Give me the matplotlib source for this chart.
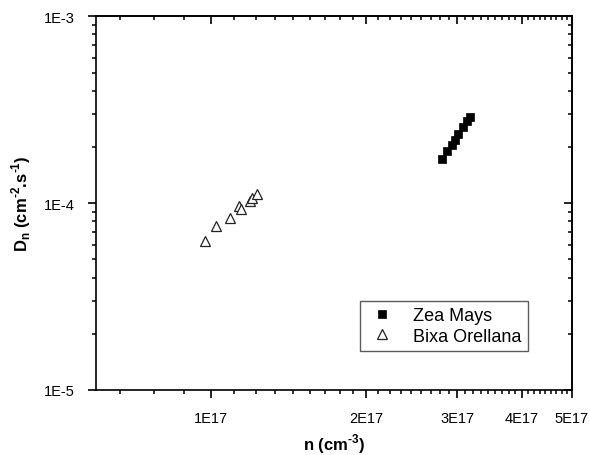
import numpy as np
import matplotlib
matplotlib.use('Agg')
import matplotlib.pyplot as plt
from matplotlib.ticker import FixedLocator, FixedFormatter, NullFormatter, LogLocator

plt.rcParams['font.family'] = ['Liberation Sans', 'DejaVu Sans']
plt.rcParams['mathtext.fontset'] = 'custom'
plt.rcParams['mathtext.rm'] = 'Liberation Sans:bold'
plt.rcParams['mathtext.bf'] = 'Liberation Sans:bold'

# Zea Mays (filled squares)
zea_n = [2.807e17, 2.871e17, 2.931e17, 2.975e17, 3.018e17, 3.078e17, 3.133e17, 3.183e17]
zea_d = [1.725e-4, 1.89e-4, 2.035e-4, 2.19e-4, 2.348e-4, 2.549e-4, 2.745e-4, 2.884e-4]

# Bixa Orellana (open triangles)
bixa_n = [9.75e16, 1.024e17, 1.089e17, 1.136e17, 1.144e17, 1.191e17, 1.205e17, 1.23e17]
bixa_d = [6.28e-5, 7.51e-5, 8.28e-5, 9.6e-5, 9.35e-5, 1.03e-4, 1.064e-4, 1.117e-4]

x_ticks = [1e17, 2e17, 3e17, 4e17, 5e17]
x_labels = ['1E17', '2E17', '3E17', '4E17', '5E17']
y_ticks = [1e-5, 1e-4, 1e-3]
y_labels = ['1E-5', '1E-4', '1E-3']

# minor ticks as in Origin: 8 per major step of 1E17
x_minor = [k * 1e17 / 9 for k in range(1, 46) if 6e16 <= k * 1e17 / 9 <= 5e17 and k % 9 != 0]
y_minor = LogLocator(base=10, subs=np.arange(2, 10))

fig = plt.figure(figsize=(5.9, 4.56), dpi=100)
ax = fig.add_axes([96 / 590, 1 - 391 / 456, (571.7 - 96) / 590, (391 - 17.3) / 456])

ax.plot(zea_n, zea_d, ls='none', marker='s', ms=6, mfc='black', mec='black', mew=0.5, label='Zea Mays')
ax.plot(bixa_n, bixa_d, ls='none', marker='^', ms=7.5, mfc='white', mec='#222222', mew=0.9, label='Bixa Orellana')

ax.set_xscale('log')
ax.set_yscale('log')
ax.set_xlim(6e16, 5e17)
ax.set_ylim(1e-5, 1e-3)

ax.xaxis.set_major_locator(FixedLocator(x_ticks))
ax.xaxis.set_minor_locator(FixedLocator(x_minor))
ax.xaxis.set_major_formatter(FixedFormatter(x_labels))
ax.xaxis.set_minor_formatter(NullFormatter())
ax.yaxis.set_major_locator(FixedLocator(y_ticks))
ax.yaxis.set_minor_locator(y_minor)
ax.yaxis.set_major_formatter(FixedFormatter(y_labels))
ax.yaxis.set_minor_formatter(NullFormatter())
ax.tick_params(which='major', direction='out', length=6, width=1.2, labelsize=10.5, pad=9)
ax.tick_params(which='minor', direction='out', length=3, width=1.1)

# top and right ticks point inward
top = ax.secondary_xaxis('top')
right = ax.secondary_yaxis('right')
top.xaxis.set_major_locator(FixedLocator(x_ticks))
top.xaxis.set_minor_locator(FixedLocator(x_minor))
top.xaxis.set_major_formatter(NullFormatter())
top.xaxis.set_minor_formatter(NullFormatter())
right.yaxis.set_major_locator(FixedLocator(y_ticks))
right.yaxis.set_minor_locator(LogLocator(base=10, subs=np.arange(2, 10)))
right.yaxis.set_major_formatter(NullFormatter())
right.yaxis.set_minor_formatter(NullFormatter())
for s in (top, right):
    s.tick_params(which='major', direction='in', length=6, width=1.2)
    s.tick_params(which='minor', direction='in', length=3, width=1.1)
    for sp in s.spines.values():
        sp.set_linewidth(1.2)

for sp in ax.spines.values():
    sp.set_linewidth(1.2)

ax.set_xlabel(r'n (cm$^{\text{-3}}$)', fontsize=12, fontweight='bold', labelpad=5)
ax.set_ylabel(r'D$_\text{n}$ (cm$^{\text{-2}}$.s$^{\text{-1}}$)', fontsize=12, fontweight='bold', labelpad=8)

leg = ax.legend(loc='upper left', bbox_to_anchor=(0.555, 0.239), borderaxespad=0, fontsize=13,
                frameon=True, fancybox=False, edgecolor='#333333', handletextpad=0.9,
                borderpad=0.35, labelspacing=0.2, handlelength=1.7)
leg.get_frame().set_linewidth(1.0)

fig.savefig('out.png', dpi=100)
